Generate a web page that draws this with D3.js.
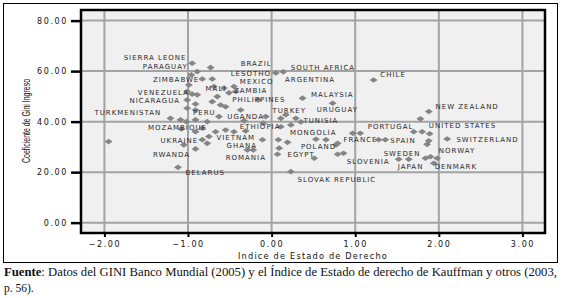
<!DOCTYPE html>
<html><head><meta charset="utf-8">
<script src="https://cdn.jsdelivr.net/npm/d3@7"></script>
<style>body{margin:0;background:#fff;} svg{display:block;}</style>
</head><body>
<svg id="c" width="563" height="298"></svg>
<script>
// ---- data ----
const xTicks = [-2, -1, 0, 1, 2, 3];
const yTicks = [0, 20, 40, 60, 80];
const ruleOfLaw = [-1.95,-1.12,-1.05,-0.91,-0.95,-0.89,-0.73,-0.96,-0.83,-0.71,-0.99,-1.01,-0.95,-0.89,-1.01,-0.91,-1.01,-0.91,-1.21,-1.09,-1.02,-0.91,-0.77,-1.08,-0.91,-0.83,-0.83,-0.75,-0.69,-0.57,-0.45,-0.51,-0.65,-0.43,-0.71,-0.61,-0.55,0.05,0.14,0.37,0.73,-0.63,-0.07,0.11,0.17,0.29,-0.33,-0.10,0.11,0.23,-0.67,-0.55,-0.11,0.08,0.19,-0.29,-0.22,0.09,0.07,0.23,1.22,1.88,1.78,0.97,1.06,1.70,1.80,1.89,2.10,1.88,1.86,1.28,1.36,0.79,0.79,0.86,1.52,1.64,1.84,1.90,1.98,1.94,0.53,0.65,0.77,0.51,-0.45,-0.77,-0.31,0.35,-0.16,-0.37];
const gini = [32.1,21.9,30.8,29.2,63.1,59.8,61.4,58.5,56.9,56.9,54.5,51.9,50.9,50.6,48.6,47.0,45.3,44.6,41.3,40.7,40.0,40.7,40.0,37.1,36.0,37.4,32.8,34.1,53.9,53.3,53.9,51.4,49.9,51.9,47.9,46.6,45.9,59.3,59.7,49.3,47.3,42.0,42.0,41.3,42.7,41.3,40.3,39.4,38.0,38.7,36.0,36.7,32.8,32.8,31.8,28.8,28.8,29.5,27.1,20.2,56.5,44.0,41.1,35.4,35.4,36.0,36.0,35.2,33.1,32.4,31.0,32.8,32.8,31.4,27.1,27.5,25.1,25.1,25.5,26.1,25.5,23.5,33.0,32.8,30.8,25.5,36.0,31.4,36.3,39.9,48.6,44.6];
const countryNames = ["SIERRA LEONE","PARAGUAY","BRAZIL","SOUTH AFRICA","LESOTHO","ZIMBABWE","MEXICO","ARGENTINA","CHILE","MALI","ZAMBIA","MALAYSIA","VENEZUELA","PHILIPPINES","NICARAGUA","NEW ZEALAND","TURKMENISTAN","PERU","TURKEY","URUGUAY","UGANDA","TUNISIA","MOZAMBIQUE","ETHIOPIA","PORTUGAL","UNITED STATES","MONGOLIA","UKRAINE","VIETNAM","FRANCE","SPAIN","SWITZERLAND","GHANA","POLAND","NORWAY","SWEDEN","RWANDA","ROMANIA","EGYPT","SLOVENIA","JAPAN","DENMARK","BELARUS","SLOVAK REPUBLIC"];
// label anchor (start) in data units
const nameX = [-1.77,-1.54,-0.37,0.23,-0.49,-1.42,-0.38,0.16,1.30,-0.79,-0.45,0.47,-1.60,-0.47,-1.70,1.96,-2.12,-0.94,0.01,0.54,-0.53,0.38,-1.48,-0.38,1.15,1.88,0.22,-1.33,-0.66,0.86,1.42,2.21,-0.54,0.35,2.00,1.34,-1.42,-0.55,0.19,0.90,1.51,1.95,-1.03,0.31];
const nameY = [65.5,61.8,63.1,61.5,58.9,56.8,55.8,56.5,58.5,53.2,52.2,50.6,51.6,48.6,48.3,45.9,43.6,43.7,44.6,44.9,42.0,40.4,37.6,38.0,38.0,38.3,35.8,32.5,33.8,32.8,32.5,33.1,30.7,30.1,28.4,27.5,26.8,25.7,26.8,24.4,22.2,22.2,19.7,16.9];
const xTitle = "Indice de Estado de Derecho";
const yTitle = "Coeficiente de Gini Ingreso";
const sourceBold = "Fuente";
const sourceLine1 = ": Datos del GINI Banco Mundial (2005) y el Índice de Estado de derecho de Kauffman y otros (2003,";
const sourceLine2 = "p. 56).";

// ---- layout ----
const svg = d3.select("#c");
const L = 81, R = 545, T = 10, B = 233;
const x = d3.scaleLinear().domain([-2.28, 3.27]).range([L, R]);
const y = d3.scaleLinear().domain([-4.1, 84.2]).range([B, T]);

// outer frame
svg.append("rect").attr("x", 3.5).attr("y", 3.5).attr("width", 554).attr("height", 259)
  .attr("fill", "none").attr("stroke", "#000").attr("stroke-width", 1);

// plot background
svg.append("rect").attr("x", L).attr("y", T).attr("width", R - L).attr("height", B - T)
  .attr("fill", "#f0f0f0");

// gridlines
const grid = svg.append("g");
grid.selectAll(".gx").data(xTicks).join("line")
  .attr("x1", d => x(d)).attr("x2", d => x(d)).attr("y1", T).attr("y2", B)
  .attr("stroke", "#a3a3a3").attr("stroke-width", 2);
grid.selectAll(".gy").data(yTicks).join("line")
  .attr("y1", d => y(d)).attr("y2", d => y(d)).attr("x1", L).attr("x2", R)
  .attr("stroke", "#a3a3a3").attr("stroke-width", 2);

// points
const pts = ruleOfLaw.map((v, i) => ({x: v, y: gini[i]}));
svg.append("g").selectAll("path").data(pts).join("path")
  .attr("d", "M-4,0L0,-2.8L4,0L0,2.8Z")
  .attr("transform", d => `translate(${x(d.x)},${y(d.y)})`)
  .attr("fill", "#858585");

// country labels
svg.append("g").selectAll("text").data(countryNames).join("text")
  .attr("x", (d, i) => x(nameX[i])).attr("y", (d, i) => y(nameY[i]))
  .attr("dy", "0.36em")
  .attr("font-family", "DejaVu Sans, sans-serif").attr("font-size", 7)
  .attr("letter-spacing", 1.0).attr("fill", "#2a2a2a")
  .text(d => d);

// plot border
svg.append("rect").attr("x", L).attr("y", T).attr("width", R - L).attr("height", B - T)
  .attr("fill", "none").attr("stroke", "#000").attr("stroke-width", 2.5);

// axes
const yAxis = d3.axisLeft(y).tickValues(yTicks).tickFormat(d3.format(".2f")).tickSize(10).tickPadding(3);
const gy = svg.append("g").attr("transform", `translate(${L},0)`).call(yAxis);
gy.select(".domain").remove();
gy.selectAll(".tick line").attr("stroke", "#000").attr("stroke-width", 2.5);
gy.selectAll(".tick text").attr("font-family", "DejaVu Sans, sans-serif").attr("font-size", 8)
  .attr("letter-spacing", 1.6).attr("fill", "#111");

const xAxis = d3.axisBottom(x).tickValues(xTicks).tickFormat(d3.format(".2f")).tickSize(4).tickPadding(4);
const gx = svg.append("g").attr("transform", `translate(0,${B})`).call(xAxis);
gx.select(".domain").remove();
gx.selectAll(".tick line").attr("stroke", "#000").attr("stroke-width", 2);
gx.selectAll(".tick text").attr("font-family", "DejaVu Sans, sans-serif").attr("font-size", 8)
  .attr("letter-spacing", 1.6).attr("fill", "#111");

// axis titles
svg.append("text").attr("x", (L + R) / 2).attr("y", 256).attr("dy", "0.36em")
  .attr("text-anchor", "middle").attr("font-family", "DejaVu Sans, sans-serif")
  .attr("font-size", 8.2).attr("letter-spacing", 1.2).attr("fill", "#111").text(xTitle);

svg.append("text").attr("transform", "translate(26,121) rotate(-90)")
  .attr("text-anchor", "middle").attr("dy", "0.36em")
  .attr("font-family", "Liberation Sans Narrow, Liberation Sans, sans-serif")
  .attr("font-size", 10).attr("textLength", 84).attr("lengthAdjust", "spacingAndGlyphs")
  .attr("fill", "#111").text(yTitle);

// source
const src = svg.append("text").attr("x", 4).attr("y", 276)
  .attr("font-family", "Liberation Serif, serif").attr("font-size", 11.5).attr("fill", "#111")
  .attr("textLength", 553).attr("lengthAdjust", "spacingAndGlyphs");
src.append("tspan").attr("font-weight", "bold").text(sourceBold);
src.append("tspan").text(sourceLine1);
svg.append("text").attr("x", 4).attr("y", 292)
  .attr("font-family", "Liberation Serif, serif").attr("font-size", 11.5).attr("fill", "#111")
  .text(sourceLine2);
</script>
</body></html>
